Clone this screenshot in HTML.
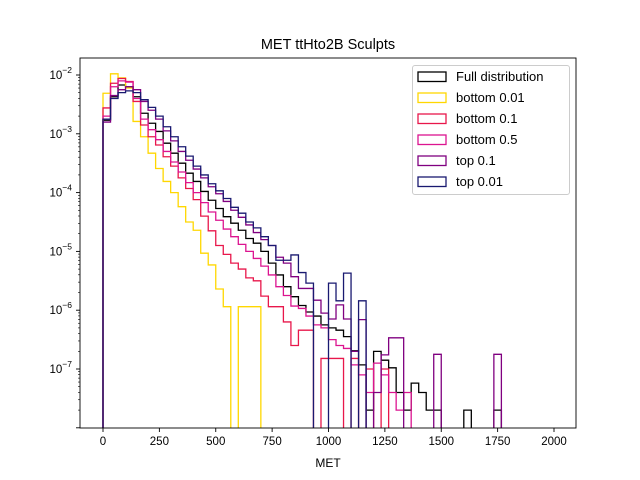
<!DOCTYPE html>
<html><head><meta charset="utf-8"><style>
body{margin:0;background:#fff;}
svg{display:block;font-family:"Liberation Sans","DejaVu Sans",sans-serif;}
</style></head><body>
<svg id="chart" width="640" height="480" viewBox="0 0 640 480">
<defs><clipPath id="plotclip"><rect x="80" y="58" width="496" height="370"/></clipPath></defs>
<rect x="0" y="0" width="640" height="480" fill="#fff"/>
<text x="328" y="49" font-size="14.5" text-anchor="middle">MET ttHto2B Sculpts</text>
<g id="series" clip-path="url(#plotclip)"></g>
<g id="axes"></g>
<text x="328" y="467" font-size="12" text-anchor="middle">MET</text>
<g id="legend"></g>
</svg>
<script>
// Histogram: 60 bins from 0 to 2000 (MET), values are log10(density); null = empty bin
const binEdgesStart = 0;
const binWidth = 2000/60;
const seriesNames = ["Full distribution","bottom 0.01","bottom 0.1","bottom 0.5","top 0.1","top 0.01"];
const seriesColors = ["#000000","#ffd700","#e8174b","#dc1490","#800080","#191970"];
const xTicks = [0,250,500,750,1000,1250,1500,1750,2000];
const yTickExps = [-2,-3,-4,-5,-6,-7];
const N = null;
const fullLog10 = [-2.77,-2.37,-2.17,-2.2,-2.37,-2.65,-2.82,-2.96,-3.16,-3.33,-3.5,-3.67,-3.81,-3.98,-4.13,-4.27,-4.41,-4.52,-4.64,-4.78,-4.86,-5.0,-5.2,-5.4,-5.6,-5.77,-5.92,-6.03,-6.1,-6.25,-6.3,-6.34,-6.45,-6.69,-6.93,-7.7,-6.7,-6.85,-6.98,-7.4,-7.7,-7.24,-7.4,-7.7,-7.7,N,N,N,-7.7,N,N,N,-7.7,N,N,N,N,N,N,N];
const bottom001Log10 = [-2.31,-1.98,-2.05,-2.22,-2.79,-3.05,-3.33,-3.59,-3.81,-4.0,-4.24,-4.5,-4.64,-5.03,-5.23,-5.64,-5.94,N,-5.94,-5.94,-5.94,N,N,N,N,N,N,N,N,N,N,N,N,N,N,N,N,N,N,N,N,N,N,N,N,N,N,N,N,N,N,N,N,N,N,N,N,N,N,N];
const bottom01Log10 = [-2.56,-2.14,-2.06,-2.11,-2.45,-2.85,-3.05,-3.19,-3.39,-3.55,-3.75,-3.93,-4.12,-4.4,-4.65,-4.9,-5.05,-5.2,-5.3,-5.45,-5.5,-5.76,-5.94,-5.94,-6.2,-6.6,-6.34,-6.34,N,-6.82,-6.82,-6.82,N,-6.82,N,-7.0,N,-7.0,N,N,N,N,N,N,N,N,N,N,N,N,N,N,N,N,N,N,N,N,N,N];
const bottom05Log10 = [-2.7,-2.2,-2.1,-2.12,-2.4,-2.75,-2.93,-3.1,-3.3,-3.48,-3.65,-3.83,-4.0,-4.17,-4.33,-4.47,-4.62,-4.75,-4.88,-5.0,-5.12,-5.25,-5.4,-5.6,-5.75,-5.93,-5.97,-6.1,-6.25,-6.3,-6.5,-6.6,-6.65,-6.93,-7.1,-7.4,-6.9,-7.1,-7.4,-7.7,-7.4,N,N,N,N,N,N,N,N,N,N,N,N,N,N,N,N,N,N,N];
const top01Log10 = [-2.8,-2.35,-2.25,-2.2,-2.25,-2.45,-2.6,-2.75,-2.95,-3.12,-3.3,-3.45,-3.6,-3.75,-3.9,-4.02,-4.15,-4.3,-4.42,-4.55,-4.68,-4.8,-4.9,-5.1,-5.2,-5.43,-5.63,-5.63,-5.83,-6.05,-6.15,-5.91,-6.15,-6.7,-6.16,N,-7.4,-6.76,-6.47,-6.47,N,N,N,N,-6.75,N,N,N,N,N,N,N,-6.75,N,N,N,N,N,N,N];
const top001Log10 = [-2.75,-2.4,-2.3,-2.27,-2.3,-2.42,-2.55,-2.7,-2.88,-3.05,-3.22,-3.38,-3.55,-3.7,-3.85,-3.97,-4.1,-4.25,-4.35,-4.5,-4.6,-4.75,-4.9,-5.15,-5.15,-5.06,-5.36,-5.54,N,N,-5.54,-5.84,-5.37,N,-5.84,N,N,N,N,N,N,N,N,N,N,N,N,N,N,N,N,N,N,N,N,N,N,N,N,N];
const allSeries = [fullLog10,bottom001Log10,bottom01Log10,bottom05Log10,top01Log10,top001Log10];

const NS="http://www.w3.org/2000/svg";
const L=80,R=576,T=58,B=428;
function xs(v){return 103+v*451/2000;}
function ys(lg){return 75+(-2-lg)*58.8;}
function mk(tag,attrs,parent){const e=document.createElementNS(NS,tag);for(const k in attrs)e.setAttribute(k,attrs[k]);parent.appendChild(e);return e;}

const sg=document.getElementById('series');
allSeries.forEach((arr,si)=>{
  let d="M"+xs(binEdgesStart)+","+(B+5);
  arr.forEach((lg,i)=>{
    const y=(lg===null)?B+5:ys(lg);
    d+=" L"+xs(binEdgesStart+i*binWidth)+","+y+" L"+xs(binEdgesStart+(i+1)*binWidth)+","+y;
  });
  d+=" L"+xs(binEdgesStart+arr.length*binWidth)+","+(B+5);
  const p=mk('path',{d:d,fill:'none',stroke:seriesColors[si],'stroke-width':1.3,'stroke-linejoin':'miter'},sg);
  
  
});

const ag=document.getElementById('axes');
const frame=mk('rect',{x:L,y:T,width:R-L,height:B-T,fill:'none',stroke:'#000','stroke-width':0.9},ag);


xTicks.forEach(v=>{
  const x=xs(v);
  const t=mk('line',{x1:x,x2:x,y1:B,y2:B+4,stroke:'#000','stroke-width':0.9},ag);
  
  
  const tx=mk('text',{x:x,y:B+17,'font-size':11.5,'text-anchor':'middle'},ag);
  tx.textContent=String(v);
  
  
});
for(let e=-8;e<=-2;e++){
  for(let m=1;m<10;m++){
    const lg=e+Math.log10(m);
    const y=ys(lg);
    if(y<T||y>B)continue;
    const major=(m===1);
    const t=mk('line',{x1:L-(major?4:2),x2:L,y1:y,y2:y,stroke:'#000','stroke-width':major?0.9:0.6},ag);
    
    
  }
}
yTickExps.forEach(e=>{
  const y=ys(e);
  const tx=mk('text',{x:L-8,y:y+4,'font-size':11.5,'text-anchor':'end'},ag);
  
  
  const a=mk('tspan',{},tx);a.textContent="10";
  const b=mk('tspan',{dy:-6,'font-size':8.5},tx);b.textContent="\u2212"+(-e);
});

const lg=document.getElementById('legend');
const box=mk('rect',{x:412.5,y:65.5,width:157,height:129,rx:2.5,fill:'#fff','fill-opacity':0.8,stroke:'#ccc','stroke-width':1},lg);


seriesNames.forEach((n,i)=>{
  const y=76+i*21;
  const r=mk('rect',{x:418,y:y-4,width:28,height:9.5,fill:'none',stroke:seriesColors[i],'stroke-width':1.3},lg);
  
  
  const t=mk('text',{x:456,y:y+5,'font-size':13},lg);
  t.textContent=n;
  
  
});
</script>
</body></html>
